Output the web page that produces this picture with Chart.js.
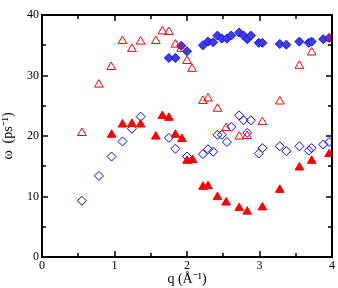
<!DOCTYPE html>
<html>
<head>
<meta charset="utf-8">
<script src="https://cdn.jsdelivr.net/npm/chart.js@4"></script>
<style>
  html, body { margin: 0; padding: 0; background: #fff; }
  #wrap { width: 338px; height: 288px; }
</style>
</head>
<body>
<div id="wrap"><canvas id="chart"></canvas></div>
<script>
// open red triangles
var triOpenQ = [0.55,0.785,0.955,1.11,1.24,1.36,1.57,1.66,1.75,1.84,1.92,2.0,2.07,2.22,2.29,2.42,2.54,2.72,2.83,3.04,3.28,3.55,3.72,3.96];
var triOpenW = [20.5,28.5,31.4,35.7,34.4,35.6,35.7,37.3,37.2,35.1,34.4,32.4,31.1,25.8,26.2,24.5,21.3,19.9,20.0,22.3,25.7,31.6,33.8,36.1];
// filled red triangles
var triFillQ = [0.96,1.11,1.24,1.36,1.57,1.66,1.75,1.84,1.93,2.0,2.08,2.22,2.29,2.42,2.54,2.72,2.83,3.04,3.28,3.55,3.72,3.96];
var triFillW = [20.2,21.9,22.0,21.9,19.9,23.3,23.0,20.2,19.5,15.9,16.0,11.6,11.7,9.9,9.0,8.1,7.5,8.2,11.1,14.8,15.9,17.0];
// open blue diamonds
var diaOpenQ = [0.55,0.785,0.96,1.11,1.24,1.36,1.75,1.84,2.0,2.22,2.29,2.36,2.42,2.48,2.55,2.61,2.72,2.78,2.83,2.88,2.99,3.04,3.28,3.37,3.55,3.68,3.72,3.88,3.96];
var diaOpenW = [9.3,13.4,16.6,19.1,21.2,23.2,19.7,17.9,16.6,17.0,17.8,17.4,20.2,20.2,19.0,21.5,23.4,22.6,20.5,22.6,17.1,18.0,18.3,17.5,18.3,17.6,18.0,18.6,19.0];
// filled blue diamonds
var diaFillQ = [1.75,1.84,1.92,2.0,2.22,2.29,2.36,2.42,2.48,2.55,2.61,2.72,2.78,2.83,2.88,2.99,3.04,3.28,3.37,3.55,3.68,3.72,3.88,3.96];
var diaFillW = [32.9,32.9,34.9,34.0,35.0,35.6,35.5,36.6,36.1,36.1,36.6,37.1,36.6,36.0,36.6,35.4,35.4,35.2,35.1,35.6,35.4,35.6,36.0,36.2];

var xTicks = [0,1,2,3,4];
var yTicks = [0,10,20,30,40];

function pts(xs, ys) {
  return xs.map(function(x, i) { return {x: x, y: ys[i]}; });
}

// frame + inward ticks, like the original plot
var frameTicks = {
  id: 'frameTicks',
  afterDraw: function(chart) {
    var ctx = chart.ctx, a = chart.chartArea;
    var xs = chart.scales.x, ys = chart.scales.y;
    ctx.save();
    ctx.strokeStyle = '#000';
    ctx.lineWidth = 2;
    ctx.strokeRect(a.left, a.top, a.right - a.left, a.bottom - a.top);
    ctx.lineWidth = 1.5;
    ctx.beginPath();
    for (var v = 0; v <= 4.001; v += 0.5) {
      var px = Math.round(xs.getPixelForValue(v));
      var len = (v % 1 === 0) ? 6 : 4;
      ctx.moveTo(px, a.bottom); ctx.lineTo(px, a.bottom - len);
      ctx.moveTo(px, a.top); ctx.lineTo(px, a.top + len);
    }
    for (var w = 0; w <= 40; w += 5) {
      var py = Math.round(ys.getPixelForValue(w));
      var l2 = (w % 10 === 0) ? 6 : 4;
      ctx.moveTo(a.left, py); ctx.lineTo(a.left + l2, py);
      ctx.moveTo(a.right, py); ctx.lineTo(a.right - l2, py);
    }
    ctx.stroke();
    ctx.restore();
  }
};

new Chart(document.getElementById('chart'), {
  type: 'scatter',
  data: {
    datasets: [
      {
        data: pts(triOpenQ, triOpenW),
        pointStyle: 'triangle', pointRadius: 5, pointBorderWidth: 1,
        borderColor: '#ff0000', backgroundColor: 'rgba(255,255,255,0)'
      },
      {
        data: pts(triFillQ, triFillW),
        pointStyle: 'triangle', pointRadius: 5, pointBorderWidth: 1,
        borderColor: '#ff0000', backgroundColor: '#ff0000'
      },
      {
        data: pts(diaOpenQ, diaOpenW),
        pointStyle: 'rectRot', pointRadius: 4.5, pointBorderWidth: 1,
        borderColor: '#0000ff', backgroundColor: 'rgba(255,255,255,0)'
      },
      {
        data: pts(diaFillQ, diaFillW),
        pointStyle: 'rectRot', pointRadius: 4.5, pointBorderWidth: 1,
        borderColor: '#1010e0', backgroundColor: '#3c3cf5'
      }
    ]
  },
  options: {
    responsive: true,
    maintainAspectRatio: false,
    animation: false,
    events: [],
    layout: { padding: { top: 15, right: -2, left: 0, bottom: 0 } },
    plugins: { legend: { display: false }, tooltip: { enabled: false } },
    scales: {
      x: {
        type: 'linear', min: 0, max: 4,
        afterBuildTicks: function(s) { s.ticks = xTicks.map(function(v) { return {value: v}; }); },
        afterFit: function(s) { s.height = 31; },
        grid: { display: false, drawTicks: false },
        border: { display: false },
        ticks: { color: '#000', padding: 2, font: { family: 'Liberation Serif', size: 12 } },
        title: {
          display: true, text: 'q (Å⁻¹)', color: '#000', padding: { top: 0, bottom: 0 },
          font: { family: 'Liberation Serif', size: 14 }
        }
      },
      y: {
        type: 'linear', min: 0, max: 40,
        afterBuildTicks: function(s) { s.ticks = yTicks.map(function(v) { return {value: v}; }); },
        afterFit: function(s) { s.width = 42; },
        grid: { display: false, drawTicks: false },
        border: { display: false },
        ticks: { color: '#000', padding: 3, font: { family: 'Liberation Serif', size: 12 } },
        title: {
          display: true, text: 'ω  (ps⁻¹)', color: '#000', padding: { top: 0, bottom: 2 },
          font: { family: 'Liberation Serif', size: 14 }
        }
      }
    }
  },
  plugins: [frameTicks]
});
</script>
</body>
</html>
